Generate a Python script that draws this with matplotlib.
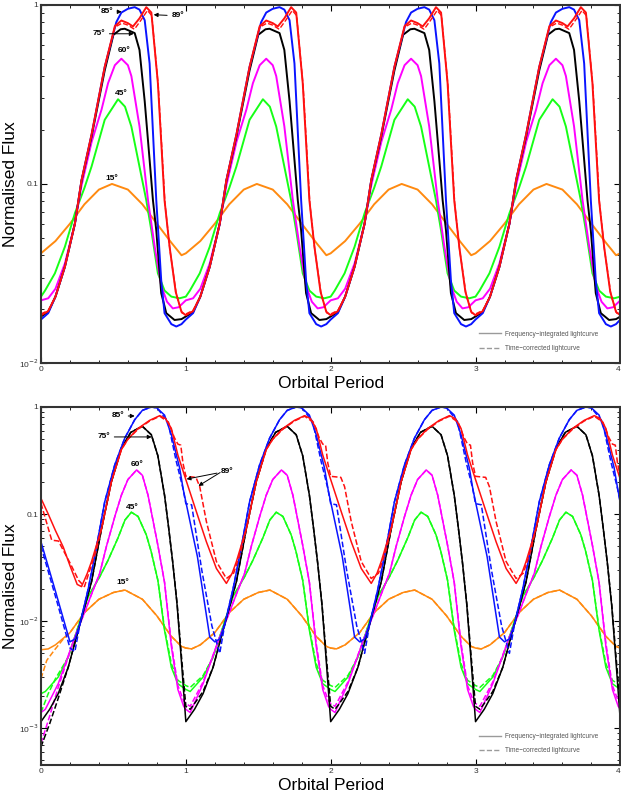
import numpy as np
import matplotlib
matplotlib.use('Agg')
import matplotlib.pyplot as plt
from matplotlib.ticker import LogLocator, NullFormatter, MultipleLocator

plt.rcParams['font.family'] = ['Liberation Sans', 'DejaVu Sans']

# ---- values: (phase within one orbit, normalised flux) ----
# top panel (frequency-integrated / time-corrected nearly identical)
top_blue = ([0.0, 0.05, 0.1, 0.165, 0.234, 0.28, 0.35, 0.44, 0.52, 0.555, 0.6, 0.647, 0.68,
             0.716, 0.75, 0.796, 0.83, 0.853, 0.9, 0.934, 0.97],
            [0.0175, 0.019, 0.0235, 0.0345, 0.06, 0.105, 0.19, 0.45, 0.80, 0.905, 0.95, 0.97, 0.94,
             0.82, 0.47, 0.081, 0.029, 0.019, 0.0165, 0.016, 0.0165])
top_red = ([0.0, 0.05, 0.1, 0.165, 0.234, 0.28, 0.35, 0.44, 0.51, 0.555, 0.6, 0.635, 0.68,
            0.727, 0.762, 0.807, 0.853, 0.888, 0.93, 0.97],
           [0.0185, 0.0195, 0.0235, 0.0345, 0.06, 0.105, 0.19, 0.45, 0.76, 0.817, 0.79, 0.757, 0.84,
            0.97, 0.905, 0.366, 0.081, 0.0445, 0.025, 0.0193])
top_red_tc = ([0.0, 0.05, 0.1, 0.165, 0.234, 0.28, 0.35, 0.44, 0.51, 0.56, 0.6, 0.645, 0.69,
               0.735, 0.765, 0.81, 0.856, 0.89, 0.935, 0.975],
              [0.0188, 0.0197, 0.0235, 0.0345, 0.06, 0.105, 0.19, 0.45, 0.75, 0.79, 0.77, 0.73, 0.82,
               0.93, 0.87, 0.35, 0.078, 0.043, 0.024, 0.019])
top_black = ([0.0, 0.05, 0.1, 0.165, 0.234, 0.28, 0.35, 0.44, 0.5, 0.55, 0.578, 0.647, 0.68,
              0.716, 0.75, 0.773, 0.796, 0.83, 0.865, 0.922, 0.97],
             [0.0182, 0.0193, 0.0235, 0.0345, 0.06, 0.104, 0.185, 0.43, 0.68, 0.73, 0.735, 0.695, 0.56,
              0.29, 0.136, 0.081, 0.055, 0.0246, 0.019, 0.0174, 0.0176])
top_magenta = ([0.0, 0.05, 0.1, 0.165, 0.234, 0.28, 0.35, 0.418, 0.463, 0.51, 0.555, 0.6, 0.624,
                0.68, 0.739, 0.785, 0.83, 0.87, 0.91, 0.95],
               [0.0224, 0.023, 0.026, 0.036, 0.06, 0.098, 0.172, 0.26, 0.365, 0.46, 0.50, 0.46, 0.40,
                0.21, 0.081, 0.0446, 0.027, 0.022, 0.0202, 0.0205])
top_green = ([0.0, 0.028, 0.096, 0.165, 0.234, 0.3, 0.349, 0.44, 0.532, 0.58, 0.624, 0.68, 0.727,
              0.762, 0.807, 0.853, 0.9, 0.957],
             [0.0235, 0.0254, 0.0317, 0.0446, 0.0686, 0.095, 0.125, 0.228, 0.297, 0.27, 0.209, 0.125,
              0.081, 0.055, 0.0317, 0.0254, 0.0235, 0.023])
top_orange = ([0.0, 0.1, 0.2, 0.3, 0.4, 0.49, 0.6, 0.7, 0.8, 0.9, 0.97],
              [0.041, 0.048, 0.060, 0.077, 0.093, 0.100, 0.093, 0.077, 0.060, 0.047, 0.040])

# bottom panel, periodic part
bot_blue = ([0.0, 0.08, 0.165, 0.2, 0.234, 0.27, 0.326, 0.372, 0.44, 0.509, 0.578, 0.647, 0.7,
             0.762, 0.8, 0.853, 0.9, 0.957, 0.982],
            [0.13, 0.04, 0.0071, 0.0064, 0.0068, 0.0095, 0.02, 0.041, 0.13, 0.287, 0.51, 0.76, 0.93,
             1.0, 0.98, 0.84, 0.55, 0.27, 0.17])
bot_blue_tc = ([0.0, 0.04, 0.11, 0.18, 0.234, 0.27, 0.326, 0.372, 0.44, 0.509, 0.578, 0.647, 0.7,
                0.762, 0.8, 0.853, 0.876, 0.934, 0.98],
               [0.125, 0.122, 0.03, 0.009, 0.005, 0.0095, 0.02, 0.041, 0.13, 0.287, 0.51, 0.76, 0.93,
                1.0, 0.98, 0.8, 0.73, 0.31, 0.174])
bot_red = ([0.0, 0.073, 0.142, 0.211, 0.28, 0.32, 0.349, 0.42, 0.486, 0.555, 0.6, 0.67, 0.75,
            0.82, 0.86, 0.9, 0.945],
           [0.21, 0.105, 0.055, 0.031, 0.0225, 0.028, 0.036, 0.075, 0.2, 0.4, 0.5, 0.63, 0.75,
            0.83, 0.78, 0.63, 0.356])
bot_red_tc = ([0.0, 0.07, 0.096, 0.142, 0.211, 0.28, 0.33, 0.38, 0.42, 0.486, 0.555, 0.6, 0.67,
               0.75, 0.82, 0.88, 0.92, 0.945, 0.965, 0.98],
              [0.225, 0.22, 0.18, 0.085, 0.036, 0.025, 0.028, 0.045, 0.075, 0.2, 0.4, 0.5, 0.62,
               0.74, 0.82, 0.72, 0.52, 0.45, 0.44, 0.3])
bot_black = ([0.0, 0.06, 0.119, 0.188, 0.257, 0.326, 0.349, 0.418, 0.486, 0.555, 0.62, 0.7,
              0.762, 0.807, 0.853, 0.881, 0.91, 0.94, 0.968],
             [0.00115, 0.0015, 0.0021, 0.0037, 0.0082, 0.018, 0.0233, 0.073, 0.2, 0.41, 0.58, 0.66,
              0.55, 0.35, 0.15, 0.075, 0.035, 0.014, 0.0045])
bot_black_tc = ([0.0, 0.03, 0.06, 0.119, 0.188, 0.257, 0.326, 0.349, 0.418, 0.486, 0.555, 0.62,
                 0.7, 0.762, 0.807, 0.853, 0.881, 0.91, 0.94, 0.968],
                [0.0016, 0.0015, 0.0017, 0.0022, 0.0037, 0.0082, 0.018, 0.0233, 0.073, 0.2, 0.41,
                 0.58, 0.66, 0.55, 0.35, 0.15, 0.075, 0.035, 0.0145, 0.005])
bot_magenta = ([0.0, 0.03, 0.119, 0.234, 0.3, 0.35, 0.406, 0.452, 0.51, 0.555, 0.6, 0.66, 0.7,
                0.739, 0.807, 0.853, 0.9, 0.945, 0.985],
               [0.0015, 0.0014, 0.0026, 0.0071, 0.012, 0.018, 0.028, 0.05, 0.095, 0.15, 0.21, 0.258,
                0.23, 0.15, 0.051, 0.023, 0.0058, 0.0023, 0.0016])
bot_magenta_tc = ([0.0, 0.03, 0.119, 0.234, 0.3, 0.35, 0.406, 0.452, 0.51, 0.555, 0.6, 0.66, 0.7,
                   0.739, 0.807, 0.853, 0.9, 0.945, 0.985],
                  [0.0017, 0.0016, 0.0027, 0.0071, 0.012, 0.018, 0.028, 0.05, 0.095, 0.15, 0.21,
                   0.258, 0.23, 0.15, 0.051, 0.023, 0.0062, 0.0025, 0.0018])
bot_green = ([0.0, 0.03, 0.119, 0.188, 0.257, 0.326, 0.406, 0.463, 0.532, 0.58, 0.624, 0.67,
              0.727, 0.76, 0.807, 0.853, 0.9, 0.945],
             [0.0023, 0.0022, 0.003, 0.0046, 0.0089, 0.017, 0.026, 0.037, 0.06, 0.088, 0.104, 0.095,
              0.064, 0.045, 0.024, 0.0082, 0.0037, 0.0026])
bot_green_tc = ([0.0, 0.03, 0.119, 0.188, 0.257, 0.326, 0.406, 0.463, 0.532, 0.58, 0.624, 0.67,
                 0.727, 0.76, 0.807, 0.853, 0.9, 0.945],
                [0.0025, 0.0024, 0.0031, 0.0046, 0.0089, 0.017, 0.026, 0.037, 0.06, 0.088, 0.104,
                 0.095, 0.064, 0.045, 0.024, 0.0085, 0.004, 0.0028])
bot_orange = ([0.0, 0.04, 0.1, 0.2, 0.3, 0.4, 0.5, 0.58, 0.7, 0.8, 0.9, 0.97],
              [0.0056, 0.0055, 0.006, 0.0078, 0.012, 0.016, 0.0185, 0.0195, 0.016, 0.0112, 0.0072,
               0.0058])

# bottom panel, start of the first orbit (differs from the later ones)
head_blue = ([0.0, 0.1, 0.2, 0.234], [0.055, 0.019, 0.0064, 0.0068])
head_blue_tc = ([0.0, 0.1, 0.2, 0.234], [0.05, 0.017, 0.0056, 0.0052])
head_red = ([0.0, 0.05, 0.1, 0.154, 0.2, 0.25, 0.28], [0.14, 0.10, 0.07, 0.049, 0.033, 0.022, 0.021])
head_red_tc = ([0.0, 0.074, 0.12, 0.2, 0.26, 0.3], [0.126, 0.057, 0.056, 0.035, 0.024, 0.021])
head_black = ([0.0, 0.06], [0.00115, 0.0015])
head_black_tc = ([0.0, 0.06, 0.119], [0.00067, 0.0011, 0.0019])
head_magenta = ([0.0, 0.03], [0.0014, 0.0015])
head_magenta_tc = ([0.0, 0.06, 0.119], [0.00072, 0.0013, 0.0024])
head_green = ([0.0, 0.03], [0.0021, 0.0022])
head_green_tc = ([0.0, 0.05, 0.1], [0.0014, 0.0021, 0.0029])
head_orange = ([0.0, 0.05, 0.1], [0.0054, 0.0055, 0.006])
head_orange_tc = ([0.0, 0.04, 0.09, 0.15], [0.0029, 0.0043, 0.0053, 0.0067])

n_orbits = 4
xtick_vals = [0, 1, 2, 3, 4]
xtick_labels = ['0', '1', '2', '3', '4']
ytick_vals_top = [0.01, 0.1, 1]
ytick_labels_top = ['10$^{-2}$', '0.1', '1']
ytick_vals_bot = [0.001, 0.01, 0.1, 1]
ytick_labels_bot = ['10$^{-3}$', '10$^{-2}$', '0.1', '1']

BLUE, RED, BLACK, MAG, GREEN, ORANGE = '#0a14ff', '#ff1010', '#000000', '#ff00ff', '#16ff16', '#ff8a10'


def orbits(curve, head=None):
    ph, val = curve
    xs, ys = [], []
    for k in range(n_orbits):
        if k == 0 and head is not None:
            xs += list(head[0])
            ys += list(head[1])
            keep = [i for i, p in enumerate(ph) if p > head[0][-1] + 0.02]
        else:
            keep = range(len(ph))
        xs += [k + ph[i] for i in keep]
        ys += [val[i] for i in keep]
    xs.append(n_orbits + ph[0])
    ys.append(val[0])
    return xs, ys


def style_axes(ax, ylim, yvals, ylabels):
    ax.set_yscale('log')
    ax.set_xlim(0, 4)
    ax.set_ylim(*ylim)
    ax.set_yticks(yvals)
    ax.set_yticklabels(ylabels)
    ax.yaxis.set_minor_locator(LogLocator(base=10, subs=np.arange(2, 10), numticks=20))
    ax.yaxis.set_minor_formatter(NullFormatter())
    ax.set_xticks(xtick_vals)
    ax.set_xticklabels(xtick_labels)
    ax.xaxis.set_minor_locator(MultipleLocator(0.2))
    ax.tick_params(which='both', direction='in', top=True, right=True, labelsize=6,
                   labelcolor='#333333', pad=2)
    ax.tick_params(which='major', length=4, width=0.8)
    ax.tick_params(which='minor', length=2, width=0.6)
    for s in ax.spines.values():
        s.set_linewidth(1.5)
        s.set_color('#333333')
    ax.get_xticklabels()[-1].set_horizontalalignment('right')
    ax.set_xlabel('Orbital Period', fontsize=12.5, labelpad=2)
    ax.set_ylabel('Normalised Flux', fontsize=12.5)
    ax.yaxis.set_label_coords(-0.039, 0.5)
    ax.plot([], [], color='#9a9a9a', lw=1, label='Frequency\u2212integrated lightcurve')
    ax.plot([], [], color='#9a9a9a', lw=1, ls='--', label='Time\u2212corrected lightcurve')
    leg = ax.legend(loc='lower left', bbox_to_anchor=(0.745, 0.015), frameon=False, fontsize=4.7,
                    handlelength=3.4, labelspacing=1.1, handletextpad=0.6)
    for t in leg.get_texts():
        t.set_color('#555555')


fig = plt.figure(figsize=(6.21, 7.98), dpi=100)
ax1 = fig.add_axes([0.066, 0.545, 0.933, 0.449])
ax2 = fig.add_axes([0.066, 0.041, 0.933, 0.449])

# top panel
lw = 1.4
ax1.plot(*orbits(top_orange), color=ORANGE, lw=lw)
ax1.plot(*orbits(top_green), color=GREEN, lw=lw)
ax1.plot(*orbits(top_magenta), color=MAG, lw=lw)
ax1.plot(*orbits(top_black), color=BLACK, lw=lw)
ax1.plot(*orbits(top_blue), color=BLUE, lw=lw)
ax1.plot(*orbits(top_red_tc), color=RED, lw=1.0, ls='--')
ax1.plot(*orbits(top_red), color=RED, lw=lw)
style_axes(ax1, (0.01, 1), ytick_vals_top, ytick_labels_top)

akw = dict(fontsize=6, fontweight='bold', ha='center', va='center')
arr = dict(arrowstyle='-|>', color='black', lw=0.7, mutation_scale=6, shrinkA=1, shrinkB=0)
ax1.annotate('85\u00b0', xy=(0.557, 0.914), xytext=(0.454, 0.914), arrowprops=arr, **akw)
ax1.annotate('89\u00b0', xy=(0.778, 0.88), xytext=(0.943, 0.868), arrowprops=arr, **akw)
ax1.annotate('75\u00b0', xy=(0.64, 0.689), xytext=(0.40, 0.689), arrowprops=arr, **akw)
ax1.text(0.571, 0.553, '60\u00b0', **akw)
ax1.text(0.557, 0.318, '45\u00b0', **akw)
ax1.text(0.489, 0.107, '15\u00b0', **akw)

# bottom panel
lw = 1.1
ax2.plot(*orbits(bot_orange, head_orange), color=ORANGE, lw=lw)
ax2.plot(*orbits(bot_orange, head_orange_tc), color=ORANGE, lw=lw, ls='--')
ax2.plot(*orbits(bot_green, head_green), color=GREEN, lw=lw)
ax2.plot(*orbits(bot_green_tc, head_green_tc), color=GREEN, lw=lw, ls='--')
ax2.plot(*orbits(bot_magenta, head_magenta), color=MAG, lw=lw)
ax2.plot(*orbits(bot_magenta_tc, head_magenta_tc), color=MAG, lw=lw, ls='--')
ax2.plot(*orbits(bot_black, head_black), color=BLACK, lw=lw)
ax2.plot(*orbits(bot_black_tc, head_black_tc), color=BLACK, lw=lw, ls='--')
ax2.plot(*orbits(bot_blue, head_blue), color=BLUE, lw=lw)
ax2.plot(*orbits(bot_blue_tc, head_blue_tc), color=BLUE, lw=lw, ls='--')
ax2.plot(*orbits(bot_red, head_red), color=RED, lw=lw)
ax2.plot(*orbits(bot_red_tc, head_red_tc), color=RED, lw=lw, ls='--')
style_axes(ax2, (4.5e-4, 1), ytick_vals_bot, ytick_labels_bot)

ax2.annotate('85\u00b0', xy=(0.647, 0.824), xytext=(0.53, 0.824), arrowprops=arr, **akw)
ax2.annotate('75\u00b0', xy=(0.764, 0.525), xytext=(0.434, 0.525), arrowprops=arr, **akw)
ax2.annotate('89\u00b0', xy=(1.005, 0.212), xytext=(1.287, 0.252), arrowprops=arr, **akw)
ax2.annotate('', xy=(1.087, 0.183), xytext=(1.245, 0.248), arrowprops=arr)
ax2.text(0.661, 0.293, '60\u00b0', **akw)
ax2.text(0.633, 0.116, '45\u00b0', **akw)
ax2.text(0.564, 0.0227, '15\u00b0', **akw)

fig.savefig('out.png', dpi=100)
